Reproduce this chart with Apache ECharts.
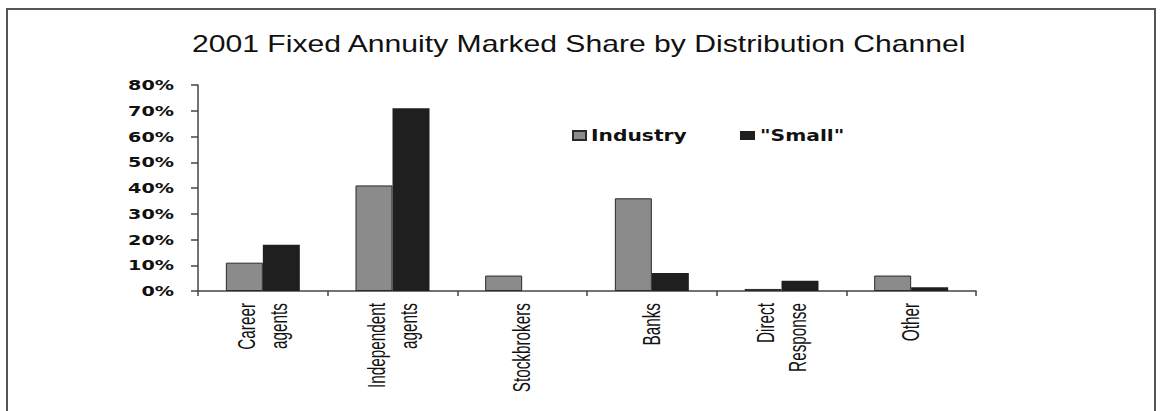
<!DOCTYPE html>
<html>
<head>
<meta charset="utf-8">
<script src="https://cdn.jsdelivr.net/npm/echarts@6/dist/echarts.min.js"></script>
<style>
  html, body { margin: 0; padding: 0; background: #ffffff; }
  #chart { width: 1160px; height: 411px; }
</style>
</head>
<body>
<div id="chart"></div>
<script>
const categories = ['Career\nagents', 'Independent\nagents', 'Stockbrokers', 'Banks', 'Direct\nResponse', 'Other'];
const industry = [11, 41, 6, 36, 0.8, 6];
const smallCos = [18, 71, 0, 7, 4, 1.5];
const seriesNames = ['Industry', '"Small"'];
const yMin = 0, yMax = 80, yStep = 10;

const chart = echarts.init(document.getElementById('chart'), null, { renderer: 'svg' });

chart.setOption({
  animation: false,
  backgroundColor: '#ffffff',
  title: {
    text: '2001 Fixed Annuity Marked Share by Distribution Channel',
    left: 192,
    top: 31,
    padding: 0,
    textStyle: { fontFamily: 'Liberation Sans, Arial, sans-serif', fontSize: 24, fontWeight: 'normal', color: '#111' }
  },
  legend: [
    {
      data: [seriesNames[0]],
      left: 572, top: 128, padding: 0,
      itemWidth: 13, itemHeight: 9,
      icon: 'rect',
      textStyle: { fontFamily: 'DejaVu Sans', fontSize: 15, fontWeight: 'bold', color: '#111' }
    },
    {
      data: [seriesNames[1]],
      left: 740, top: 128, padding: 0,
      itemWidth: 15, itemHeight: 9,
      icon: 'rect',
      textStyle: { fontFamily: 'DejaVu Sans', fontSize: 15, fontWeight: 'bold', color: '#111' }
    }
  ],
  grid: { left: 198, right: 184, top: 85, bottom: 120, containLabel: false, outerBoundsMode: 'none' },
  xAxis: {
    type: 'category',
    data: categories,
    axisLine: { lineStyle: { color: '#444', width: 1.5 } },
    axisTick: { show: true, length: 5, alignWithLabel: false, lineStyle: { color: '#444', width: 1.5 } },
    axisLabel: {
      interval: 0,
      rotate: 90,
      margin: 12,
      lineHeight: 32,
      fontFamily: 'Liberation Sans, Arial, sans-serif',
      fontSize: 23,
      color: '#111'
    },
    splitLine: { show: false }
  },
  yAxis: {
    type: 'value',
    min: yMin, max: yMax, interval: yStep,
    axisLine: { show: true, lineStyle: { color: '#444', width: 1.5 } },
    axisTick: { show: true, length: 7, lineStyle: { color: '#444', width: 1.5 } },
    axisLabel: {
      formatter: '{value}%',
      margin: 24,
      fontFamily: 'DejaVu Sans',
      fontSize: 14,
      fontWeight: 'bold',
      color: '#111'
    },
    splitLine: { show: false }
  },
  graphic: [
    {
      type: 'polyline',
      silent: true,
      shape: { points: [[7, 420], [7, 9], [1155, 9], [1155, 420]] },
      style: { stroke: '#555', lineWidth: 2, fill: null }
    }
  ],
  series: [
    {
      name: seriesNames[0],
      type: 'bar',
      data: industry,
      barWidth: 37,
      barGap: '0%',
      itemStyle: { color: '#8b8b8b', borderColor: '#2a2a2a', borderWidth: 1 }
    },
    {
      name: seriesNames[1],
      type: 'bar',
      data: smallCos,
      barWidth: 37,
      barGap: '0%',
      itemStyle: { color: '#1f1f1f', borderWidth: 0 }
    }
  ]
});

// The original artwork is horizontally stretched: widen / condense glyphs to match.
function stretchTexts() {
  const svg = document.querySelector('#chart svg');
  if (!svg) return;
  svg.querySelectorAll('text').forEach(function (t) {
    const st = t.getAttribute('style') || '';
    let k = 1;
    if (st.indexOf('24px') >= 0) k = 1.255;
    else if (st.indexOf('15px') >= 0) k = 1.35;
    else if (st.indexOf('14px') >= 0) k = 1.37;
    else if (st.indexOf('23px') >= 0) k = 0.665;
    if (k === 1) return;
    if (!t.getAttribute('data-nat')) t.setAttribute('data-nat', String(t.getComputedTextLength()));
    const nat = parseFloat(t.getAttribute('data-nat'));
    if (!(nat > 0)) return;
    t.setAttribute('textLength', (nat * k).toFixed(2));
    t.setAttribute('lengthAdjust', 'spacingAndGlyphs');
  });
}
chart.on('finished', stretchTexts);
stretchTexts();
setTimeout(stretchTexts, 30);
setTimeout(stretchTexts, 200);
</script>
</body>
</html>
